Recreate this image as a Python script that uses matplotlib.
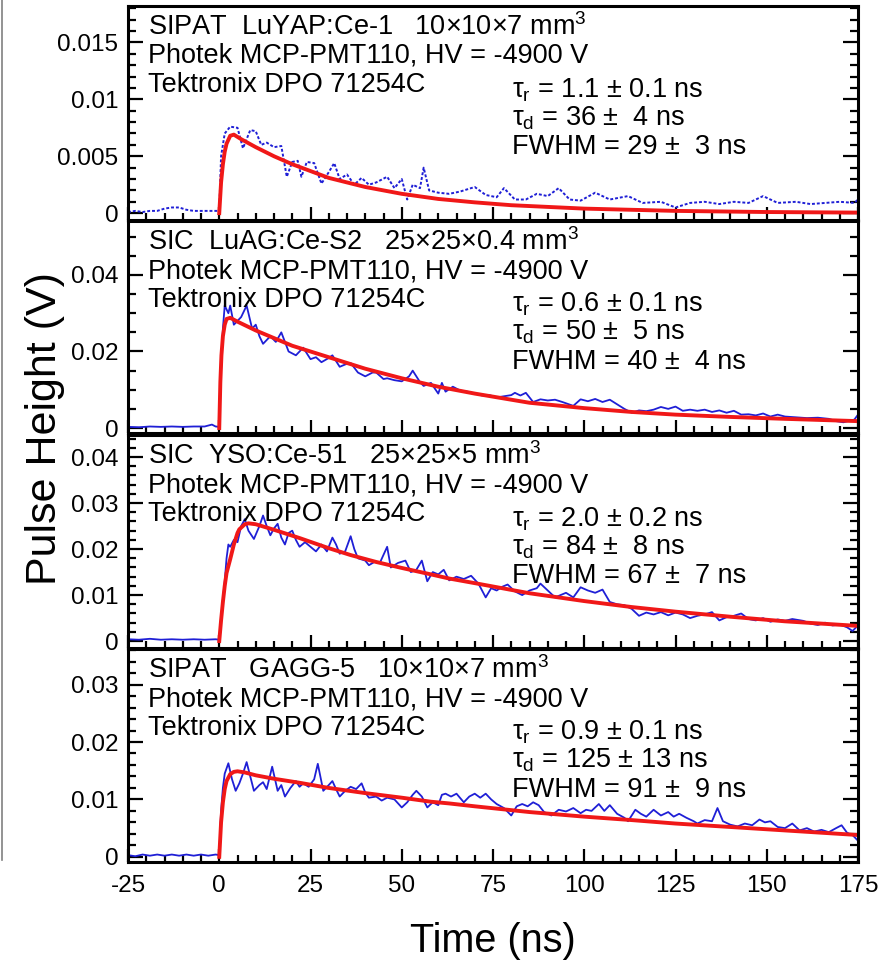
import matplotlib
matplotlib.use('Agg')
import matplotlib.pyplot as plt
from matplotlib.ticker import MultipleLocator, FuncFormatter
from matplotlib.lines import Line2D

plt.rcParams['font.family'] = ['Liberation Sans', 'DejaVu Sans']
plt.rcParams['mathtext.fontset'] = 'custom'
plt.rcParams['mathtext.rm'] = 'Liberation Sans'
plt.rcParams['mathtext.it'] = 'Liberation Sans:italic'
plt.rcParams['mathtext.bf'] = 'Liberation Sans:bold'
plt.rcParams['axes.unicode_minus'] = False

# ---- LuYAP (panel 1)
t_luyap = [-25, -23, -21, -19, -17, -15, -13, -11, -9, -7, -5, -3, -1, 0,
           0.5, 1.5, 3, 5, 6.5, 8.5, 10, 11.5, 13, 15, 17, 18.5, 20, 21.5, 22.5,
           24, 26, 28, 30, 31.5, 33, 35, 37, 39, 41, 43, 46, 48, 50, 51.5, 53,
           55, 56, 57.5, 60, 63, 66, 70, 73, 76, 78, 81, 84, 87, 90, 93, 96, 99,
           103, 107, 112, 116, 121, 125, 129, 133, 137, 141, 145, 149, 153, 158,
           162, 166, 170, 174, 175]
v_luyap = [0.0001, 0.0002, 0.0001, 0.0002, 0.0002, 0.0004, 0.0005, 0.0005,
           0.0003, 0.0002, 0.0002, 0.0002, 0.0002, 0.0002,
           0.0050, 0.0070, 0.0076, 0.0075, 0.0057, 0.0073, 0.0072, 0.0060,
           0.0062, 0.0058, 0.0059, 0.0032, 0.0045, 0.0046, 0.0032, 0.0045,
           0.0044, 0.0026, 0.0036, 0.0044, 0.0030, 0.0034, 0.0025, 0.0031,
           0.0025, 0.0027, 0.0032, 0.0022, 0.0030, 0.0012, 0.0025, 0.0022,
           0.0040, 0.0020, 0.0018, 0.0017, 0.0019, 0.0023, 0.0016, 0.0014,
           0.0022, 0.0012, 0.0012, 0.0017, 0.0015, 0.0022, 0.0012, 0.0011,
           0.0018, 0.0012, 0.0015, 0.0009, 0.0010, 0.0005, 0.0009, 0.0010,
           0.0008, 0.0010, 0.0009, 0.0015, 0.0009, 0.0010, 0.0008, 0.0009,
           0.0010, 0.0009, 0.0012]
fit_t_luyap = [0, 0.5, 1, 1.5, 2, 3, 4, 6, 10, 15, 20, 30, 40, 50, 60, 70, 80,
               100, 125, 150, 175]
fit_v_luyap = [0, 0.0027, 0.0043, 0.0054, 0.0061, 0.0068, 0.0069, 0.0065,
               0.0058, 0.0050, 0.0043, 0.0031, 0.0023, 0.0017, 0.00125, 0.00095,
               0.0007, 0.0004, 0.0002, 0.0001, 0.00005]

# ---- LuAG (panel 2)
t_luag = [-25, -22, -19, -16, -13, -10, -7, -4, -2, -1, 0,
          0.5, 1, 1.5, 2.5, 3, 4, 5, 6, 7.5, 9, 10, 11, 12, 14, 15.5, 17, 19,
          21, 23, 25, 26.5, 28, 30, 31, 33, 35, 36, 38, 40, 42, 43, 45, 46, 48,
          50, 52, 53, 55, 56, 58, 60, 61, 62, 64, 66, 68, 70, 72, 74, 76, 78,
          80, 81, 82.5, 84, 86, 88, 90, 92, 94, 97, 99, 101, 103, 105, 107, 109,
          111, 113, 115, 117, 119, 121, 123, 125, 127, 129, 131, 133, 135, 137,
          139, 141, 143, 145, 147, 149, 151, 153, 155, 158, 161, 164, 167, 169,
          171, 173, 174, 175]
v_luag = [0.0003, 0.0002, 0.0004, 0.0003, 0.0004, 0.0003, 0.0004, 0.0004,
          0.0009, 0.0004, 0.0003,
          0.015, 0.026, 0.032, 0.030, 0.032, 0.027, 0.028, 0.029, 0.032, 0.026,
          0.027, 0.024, 0.022, 0.024, 0.0225, 0.025, 0.020, 0.019, 0.021,
          0.018, 0.0185, 0.0172, 0.0183, 0.019, 0.016, 0.0168, 0.017, 0.0145,
          0.0135, 0.0145, 0.0145, 0.0128, 0.013, 0.0125, 0.0122, 0.0135,
          0.015, 0.012, 0.011, 0.0118, 0.009, 0.0118, 0.0095, 0.0108, 0.0098,
          0.0095, 0.0090, 0.0085, 0.0086, 0.0080, 0.0083, 0.0086, 0.0092,
          0.0085, 0.0092, 0.0068, 0.0075, 0.0072, 0.0074, 0.0068, 0.0058,
          0.0075, 0.0070, 0.0076, 0.0068, 0.0074, 0.0062, 0.0050, 0.0040,
          0.0046, 0.0044, 0.0048, 0.0055, 0.0050, 0.0056, 0.0045, 0.0048,
          0.0045, 0.0048, 0.0042, 0.0046, 0.0040, 0.0045, 0.0035, 0.0036,
          0.0033, 0.0038, 0.0030, 0.0035, 0.0030, 0.0028, 0.0026, 0.0027,
          0.0024, 0.0018, 0.0015, 0.0020, 0.0022, 0.0035]
fit_t_luag = [0, 0.3, 0.6, 1, 1.5, 2, 3, 5, 10, 15, 20, 30, 40, 50, 60, 70, 85,
              100, 113, 125, 140, 155, 175]
fit_v_luag = [0, 0.012, 0.019, 0.024, 0.027, 0.0285, 0.0288, 0.0278, 0.0255,
              0.0235, 0.0215, 0.0185, 0.0155, 0.013, 0.0108, 0.0090, 0.0066,
              0.0052, 0.0042, 0.0035, 0.0029, 0.0024, 0.0018]

# ---- YSO (panel 3)
t_yso = [-25, -22, -19, -16, -13, -10, -7, -4, -1, 0,
         0.5, 1, 1.5, 2, 2.5, 3, 4, 5, 6, 7, 8, 9.5, 11, 12, 13, 14, 15, 16,
         17, 18, 19, 20, 21, 22, 23.5, 25, 26.5, 28, 29.5, 31, 32, 33, 34.5, 36,
         37, 38, 40, 41, 42.5, 44, 46, 47, 49, 51, 52.5, 54, 55.5, 57, 58.5, 60,
         61.5, 63, 65, 67, 69, 71, 73, 74.5, 76, 77.5, 79, 81, 83, 85, 87, 88,
         90, 92, 93.5, 95, 97, 99, 101, 103, 105, 107, 109, 111, 113, 115, 117,
         119, 121, 123, 125, 127, 129, 131, 133, 135, 137, 139, 141, 143, 145,
         147, 149, 151, 153, 155, 157, 160, 162, 164, 166, 168, 170, 172, 173.5,
         175]
v_yso = [0.0004, 0.0003, 0.0005, 0.0003, 0.0004, 0.0003, 0.0004, 0.0003,
         0.0004, 0.0003,
         0.005, 0.009, 0.013, 0.018, 0.021, 0.0205, 0.022, 0.0215, 0.025,
         0.0265, 0.024, 0.0222, 0.025, 0.0273, 0.025, 0.023, 0.0245, 0.0255,
         0.0225, 0.021, 0.0235, 0.024, 0.022, 0.0205, 0.0215, 0.0205, 0.0195,
         0.021, 0.0195, 0.0225, 0.021, 0.019, 0.0195, 0.0228, 0.020, 0.018,
         0.0175, 0.0165, 0.0172, 0.017, 0.0205, 0.016, 0.017, 0.0175, 0.015,
         0.0155, 0.0175, 0.013, 0.015, 0.0145, 0.0155, 0.0132, 0.014, 0.0135,
         0.0142, 0.0125, 0.0095, 0.0115, 0.011, 0.0118, 0.0123, 0.0108, 0.0100,
         0.0110, 0.0115, 0.0125, 0.0110, 0.0095, 0.0100, 0.0105, 0.0095,
         0.0117, 0.0110, 0.0105, 0.0112, 0.0085, 0.0080, 0.0078, 0.0070,
         0.0055, 0.0062, 0.0058, 0.0063, 0.0056, 0.0062, 0.0058, 0.0050,
         0.0055, 0.0058, 0.0063, 0.0045, 0.0052, 0.0055, 0.0060, 0.0048,
         0.0045, 0.0050, 0.0042, 0.0047, 0.0044, 0.0048, 0.0044, 0.0038,
         0.0035, 0.0040, 0.0034, 0.0036, 0.0030, 0.0022, 0.0034]
fit_t_yso = [0, 0.5, 1, 1.5, 2, 3, 4, 5, 5.5, 7, 8, 10, 15, 22, 30, 36, 43, 50,
             58, 63, 70, 85, 100, 113, 125, 140, 155, 175]
fit_v_yso = [0, 0.0045, 0.0085, 0.012, 0.0148, 0.0178, 0.021, 0.0235, 0.0243,
             0.0254, 0.0256, 0.0254, 0.0242, 0.0224, 0.0202, 0.0187, 0.0172,
             0.0159, 0.0145, 0.0136, 0.0126, 0.0104, 0.0087, 0.0074, 0.0064,
             0.0053, 0.0043, 0.0033]

# ---- GAGG (panel 4)
t_gagg = [-25, -23, -21, -19, -17, -15, -13, -11, -9, -7, -5, -3, -1, 0,
          0.5, 1, 1.5, 2.5, 3.5, 4.5, 5.5, 6.5, 7.5, 8.5, 9.5, 11, 12, 13, 14.5,
          16, 17, 18, 19.5, 21, 22, 23, 24.5, 26, 27, 28.5, 30, 31, 32, 33, 34.5,
          36, 37.5, 39, 40, 41, 43, 44.5, 46, 48, 50, 51.5, 53, 54, 55.5, 57,
          58.5, 60, 61, 62, 63.5, 65, 67, 68.5, 70, 71.5, 73, 74.5, 76, 78, 80,
          81.5, 83, 84.5, 86, 87.5, 89, 91, 93, 95, 97, 99, 100.5, 102, 104,
          105.5, 107, 109, 111, 112, 114, 115.5, 117, 119, 121, 123, 124.5, 126,
          128, 130, 131, 133, 135, 136.5, 138, 140, 142, 144, 146, 148, 149.5,
          151, 153, 155, 157, 159, 161, 163, 165, 167, 169, 170.5, 172, 173.5,
          175]
v_gagg = [0.0003, 0.0001, 0.0004, 0.0002, 0.0004, 0.0002, 0.0004, 0.0002,
          0.0004, 0.0002, 0.0004, 0.0002, 0.0004, 0.0003,
          0.008, 0.012, 0.0145, 0.0163, 0.0135, 0.0115, 0.0128, 0.0145, 0.0165,
          0.014, 0.0115, 0.0125, 0.013, 0.0118, 0.0157, 0.0115, 0.0125, 0.0105,
          0.012, 0.0132, 0.0122, 0.0128, 0.0122, 0.0135, 0.0162, 0.0115,
          0.0125, 0.0132, 0.0118, 0.0105, 0.0115, 0.0122, 0.0118, 0.0128,
          0.0112, 0.0103, 0.0105, 0.0098, 0.0103, 0.0100, 0.0086, 0.0095,
          0.0108, 0.0115, 0.0105, 0.0086, 0.0095, 0.0090, 0.0108, 0.0110,
          0.0105, 0.0110, 0.0095, 0.0105, 0.0110, 0.0103, 0.0110, 0.0100,
          0.0092, 0.0085, 0.0072, 0.0088, 0.0092, 0.0088, 0.0095, 0.0090,
          0.0078, 0.0072, 0.0082, 0.0079, 0.0085, 0.0076, 0.0082, 0.0080,
          0.0092, 0.0080, 0.0090, 0.0075, 0.0068, 0.0062, 0.0082, 0.0075,
          0.0070, 0.0082, 0.0072, 0.0078, 0.0070, 0.0075, 0.0068, 0.0062,
          0.0058, 0.0064, 0.0062, 0.0085, 0.0062, 0.0056, 0.0053, 0.0058,
          0.0055, 0.0065, 0.0060, 0.0062, 0.0052, 0.0050, 0.0058, 0.0046,
          0.0050, 0.0044, 0.0047, 0.0043, 0.0050, 0.0055, 0.0042, 0.0038,
          0.0028]
fit_t_gagg = [0, 0.5, 1, 1.5, 2, 3, 4, 5, 7, 10, 15, 22, 30, 40, 50, 58, 63,
              70, 85, 100, 113, 125, 140, 155, 175]
fit_v_gagg = [0, 0.006, 0.0095, 0.0118, 0.0132, 0.0144, 0.0148, 0.0149,
              0.0147, 0.0142, 0.0136, 0.0129, 0.0120, 0.0111, 0.0103, 0.0096,
              0.0093, 0.0088, 0.0078, 0.0070, 0.0064, 0.0058, 0.0052, 0.0046,
              0.0038]

headers = ['SIPAT  LuYAP:Ce-1   10\u00d710\u00d77 mm$^{3}$',
           'SIC  LuAG:Ce-S2   25\u00d725\u00d70.4 mm$^{3}$',
           'SIC  YSO:Ce-51   25\u00d725\u00d75 mm$^{3}$',
           'SIPAT   GAGG-5   10\u00d710\u00d77 mm$^{3}$']
fit_params = [('1.1', '0.1', '36', ' 4', '29', ' 3'),
              ('0.6', '0.1', '50', ' 5', '40', ' 4'),
              ('2.0', '0.2', '84', ' 8', '67', ' 7'),
              ('0.9', '0.1', '125', '13', '91', ' 9')]

W, H = 882, 964
fig = plt.figure(figsize=(W / 100, H / 100), dpi=100)

# panel frames in pixels: (top, bottom)
frames = [(6, 220), (221, 433), (435, 648), (649, 862)]
ylims = [(-0.0006, 0.0182), (-0.0013, 0.0541), (-0.0015, 0.0448), (-0.0009, 0.0362)]
ymajor = [0.005, 0.02, 0.01, 0.01]
yminor = [0.001, 0.005, 0.002, 0.002]

data = [(t_luyap, v_luyap, fit_t_luyap, fit_v_luyap),
        (t_luag, v_luag, fit_t_luag, fit_v_luag),
        (t_yso, v_yso, fit_t_yso, fit_v_yso),
        (t_gagg, v_gagg, fit_t_gagg, fit_v_gagg)]

blue = '#1f1fd6'
red = '#f01818'
x0, x1 = 128, 858

for i, (top, bot) in enumerate(frames):
    ax = fig.add_axes([x0 / W, 1 - bot / H, (x1 - x0) / W, (bot - top) / H])
    t, v, ft, fv = data[i]
    if i == 0:
        ax.plot(t, v, color=blue, lw=1.4, ls=(0, (1.5, 1.0)))
    else:
        ax.plot(t, v, color=blue, lw=1.3)
    ax.plot(ft, fv, color=red, lw=2.8)

    ax.set_xlim(-25, 175)
    ax.set_ylim(*ylims[i])
    ax.xaxis.set_major_locator(MultipleLocator(25))
    ax.xaxis.set_minor_locator(MultipleLocator(5))
    ax.yaxis.set_major_locator(MultipleLocator(ymajor[i]))
    ax.yaxis.set_minor_locator(MultipleLocator(yminor[i]))
    ax.yaxis.set_major_formatter(FuncFormatter(lambda y, p: '%g' % round(y, 5)))
    ax.tick_params(axis='y', which='both', direction='in', left=True, right=True,
                   width=1.6, labelsize=17.5, pad=7)
    ax.tick_params(axis='y', which='major', length=10.5)
    ax.tick_params(axis='y', which='minor', length=5.5)
    ax.tick_params(axis='x', which='both', direction='in', bottom=True, top=False,
                   width=1.6, labelsize=17.5, pad=9)
    ax.tick_params(axis='x', which='major', length=9.5)
    ax.tick_params(axis='x', which='minor', length=4.7)
    if i < 3:
        ax.tick_params(axis='x', labelbottom=False)
    for s in ax.spines.values():
        s.set_linewidth(2.2)

    # header text, baselines in pixels below the frame top
    lines = [headers[i], 'Photek MCP-PMT110, HV = -4900 V', 'Tektronix DPO 71254C']
    for txt, off in zip(lines, [29, 57, 86]):
        ax.annotate(txt, xy=(20 / (x1 - x0), 1), xycoords='axes fraction',
                    xytext=(0, -off * 0.72), textcoords='offset points',
                    va='baseline', ha='left', fontsize=19.5)
    p = fit_params[i]
    fit_lines = ['$\\mathregular{\\tau_{r}}$ = %s \u00b1 %s ns' % (p[0], p[1]),
                 '$\\mathregular{\\tau_{d}}$ = %s \u00b1 %s ns' % (p[2], p[3]),
                 'FWHM = %s \u00b1 %s ns' % (p[4], p[5])]
    for txt, off in zip(fit_lines, [91, 119, 148]):
        ax.annotate(txt, xy=(384 / (x1 - x0), 1), xycoords='axes fraction',
                    xytext=(0, -off * 0.72), textcoords='offset points',
                    va='baseline', ha='left', fontsize=19.5)

fig.text(45 / W, 1 - 429 / H, 'Pulse Height (V)', rotation=90, ha='center',
         va='center', fontsize=31)
fig.text(493 / W, 1 - 952 / H, 'Time (ns)', ha='center', va='baseline',
         fontsize=28.5)
fig.add_artist(Line2D([2 / W, 2 / W], [1, 1 - 860 / H], color='0.5', lw=1.2))

fig.savefig('out.png', dpi=100)
